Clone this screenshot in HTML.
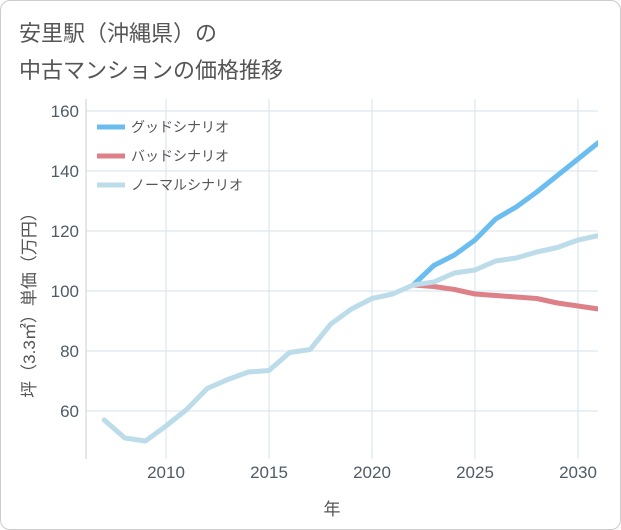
<!DOCTYPE html>
<html><head><meta charset="utf-8"><style>
body{margin:0;background:#fff;}
#wrap{position:relative;width:619px;height:528px;border:1px solid #ccc;border-radius:10px;background:#fff;overflow:hidden;}
text{font-family:"Liberation Sans","Noto Sans CJK JP",sans-serif;}
</style></head><body>
<div id="wrap">
<svg id="chart" width="621" height="530">
<text x="18" y="40" font-size="22" fill="#555">安里駅（沖縄県）の</text>
<text x="18" y="77" font-size="22" fill="#555">中古マンションの価格推移</text>
<g id="grid"></g><g id="series"></g><g id="axes"></g><g id="legend"></g>
<text x="331" y="514" font-size="17" fill="#555" text-anchor="middle">年</text>
<text transform="translate(34,300) rotate(-90)" font-size="17" fill="#555" text-anchor="middle">坪（3.3㎡）単価（万円）</text>
</svg></div>
<script>
const years=[2007,2008,2009,2010,2011,2012,2013,2014,2015,2016,2017,2018,2019,2020,2021,2022,2023,2024,2025,2026,2027,2028,2029,2030,2031];
const normalValues=[57,51,50,55,60.5,67.5,70.5,73,73.5,79.5,80.5,89,94,97.5,99,102,103,106,107,110,111,113,114.5,117,118.5];
const forecastYears=[2022,2023,2024,2025,2026,2027,2028,2029,2030,2031];
const goodValues=[102,108.5,112,117,124,128,133,138.5,144,149.5];
const badValues=[102,101.5,100.5,99,98.5,98,97.5,96,95,94];
const xTicks=[2010,2015,2020,2025,2030];
const yTicks=[60,80,100,120,140,160];
const seriesNames=["グッドシナリオ","バッドシナリオ","ノーマルシナリオ"];
const L=85,R=597,T=98,B=458;
const x=v=>165+(v-2010)*20.6;
const y=v=>290-(v-100)*3;
const NS="http://www.w3.org/2000/svg";
function mk(tag,attrs,parent){const e=document.createElementNS(NS,tag);for(const k in attrs)e.setAttribute(k,attrs[k]);parent.appendChild(e);return e;}
const grid=document.getElementById('grid'),axes=document.getElementById('axes'),ser=document.getElementById('series'),leg=document.getElementById('legend');
xTicks.forEach(t=>{const l=mk('line',{x1:x(t),x2:x(t),y1:T,y2:B,stroke:'#d5e3ec'},grid);

const tx=mk('text',{x:x(t),y:477,'font-size':17,fill:'#4f5b66','text-anchor':'middle'},axes);tx.textContent=t;
});
yTicks.forEach(t=>{const l=mk('line',{x1:L,x2:R,y1:y(t),y2:y(t),stroke:'#d5e3ec'},grid);

const tx=mk('text',{x:78,y:y(t)+6,'font-size':17,fill:'#4f5b66','text-anchor':'end'},axes);tx.textContent=t;
});
const ax=mk('line',{x1:L,x2:L,y1:T,y2:B,stroke:'#ccc'},axes);
const cp=mk('clipPath',{id:'cp'},ser);mk('rect',{x:L,y:T,width:R-L,height:B-T},cp);
function line(xs,vs,color,name){const p=mk('polyline',{points:xs.map((v,i)=>x(v)+','+y(vs[i])).join(' '),fill:'none',stroke:color,'stroke-width':5,'stroke-linejoin':'round','stroke-linecap':'round','clip-path':'url(#cp)'},ser);
}
line(forecastYears,goodValues,'#6bbdf0','good-scenario-line');
line(forecastYears,badValues,'#dd8088','bad-scenario-line');
line(years,normalValues,'#bcdcea','normal-scenario-line');
const colors=['#6bbdf0','#dd8088','#bcdcea'];
seriesNames.forEach((n,i)=>{const yy=126+i*29;
const l=mk('line',{x1:96,x2:124,y1:yy,y2:yy,stroke:colors[i],'stroke-width':5},leg);

const t=mk('text',{x:130,y:yy+5,'font-size':14,fill:'#555'},leg);t.textContent=n;
});
</script></body></html>
